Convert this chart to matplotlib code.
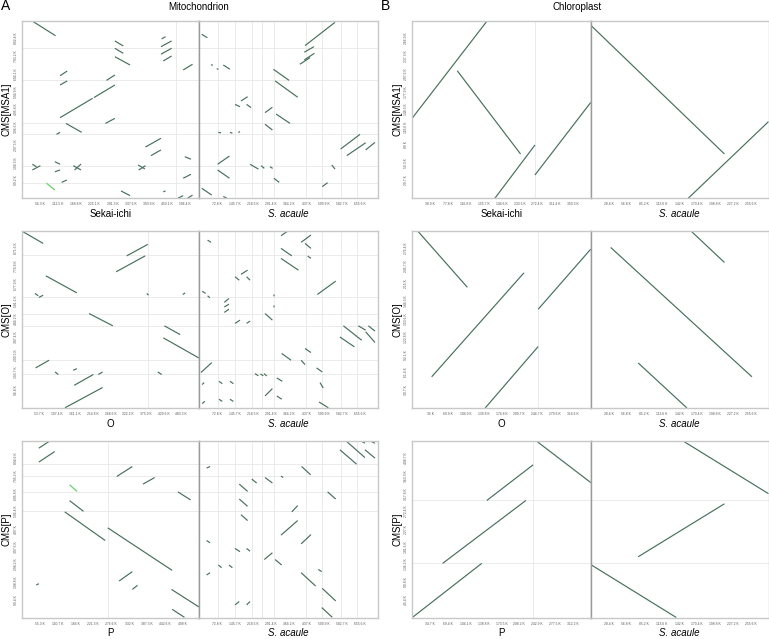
import matplotlib
matplotlib.use("Agg")
import matplotlib.pyplot as plt

plt.rcParams['font.family'] = ['Liberation Sans', 'DejaVu Sans']

# ---------------- data (values in kb) ----------------
# genome lengths (axis extents)
len_sekai_mt, len_sacaule_mt, len_msa1_mt = 550, 728, 991
len_o_mt, len_o_mt_y, len_p_mt, len_p_mt_y = 537, 968.5, 548, 994
len_sekai_cp, len_sacaule_cp, len_msa1_cp = 389, 284.5, 296.5
len_o_cp, len_o_cp_y, len_p_cp, len_p_cp_y = 350, 307, 347, 454

# tick labels
tk_sekai_mt = ["56.3 K", "112.5 K", "168.8 K", "225.1 K", "281.3 K", "337.6 K", "393.8 K", "450.1 K", "506.4 K"]
tk_sacaule_mt = ["72.8 K", "145.7 K", "218.5 K", "291.4 K", "364.2 K", "437 K", "509.9 K", "582.7 K", "655.6 K"]
tk_msa1_mt = ["99.2 K", "198.3 K", "297.5 K", "396.6 K", "495.8 K", "594.9 K", "694.1 K", "793.2 K", "892.4 K"]
tk_o_mt = ["53.7 K", "107.4 K", "161.1 K", "214.8 K", "268.6 K", "322.2 K", "375.9 K", "429.6 K", "483.3 K"]
tk_o_mt_y = ["96.8 K", "193.7 K", "290.5 K", "387.4 K", "484.2 K", "581.1 K", "677.9 K", "774.8 K", "871.6 K"]
tk_p_mt = ["55.3 K", "110.7 K", "166 K", "221.3 K", "276.6 K", "332 K", "387.3 K", "442.6 K", "498 K"]
tk_p_mt_y = ["99.4 K", "198.8 K", "298.2 K", "397.6 K", "497 K", "596.4 K", "695.8 K", "795.2 K", "894.6 K"]
tk_sekai_cp = ["38.9 K", "77.8 K", "116.8 K", "155.7 K", "194.6 K", "233.5 K", "272.4 K", "311.4 K", "350.3 K"]
tk_sacaule_cp = ["28.4 K", "56.8 K", "85.2 K", "113.6 K", "142 K", "170.4 K", "198.8 K", "227.2 K", "255.6 K"]
tk_msa1_cp = ["29.7 K", "59.3 K", "89 K", "118.6 K", "148.3 K", "177.9 K", "207.6 K", "237.3 K", "266.9 K"]
tk_o_cp = ["35 K", "69.9 K", "104.9 K", "139.8 K", "174.8 K", "209.7 K", "244.7 K", "279.6 K", "314.6 K"]
tk_o_cp_y = ["30.7 K", "61.4 K", "92.1 K", "122.8 K", "153.6 K", "184.3 K", "215 K", "245.7 K", "276.4 K"]
tk_p_cp = ["34.7 K", "69.4 K", "104.1 K", "138.8 K", "173.5 K", "208.2 K", "242.9 K", "277.5 K", "312.2 K"]
tk_p_cp_y = ["45.4 K", "90.8 K", "136.2 K", "181.6 K", "227 K", "272.4 K", "317.8 K", "363.3 K", "408.7 K"]

# contig boundaries (faint lines)
bd_sekai_mt = [480]
bd_sacaule_mt = [76, 147, 215, 255, 305, 436, 503, 577, 645]
bd_msa1_mt = [837, 658, 418, 357, 182, 84]
bd_o_mt = [384]
bd_o_mt_y = [835, 607, 516, 450, 261, 183]
bd_p_mt = [266]
bd_p_mt_y = [864, 793, 706, 601]
bd_sekai_cp = [267.5]
bd_o_cp = [247]
bd_p_cp = [235]
bd_p_cp_y = [300.6, 139]

# alignments: (x_start, x_end, y_start, y_end)
mt_msa1_sekai = [
    (33, 105, 989, 907), (289, 315, 878, 850), (289, 315, 837, 809), (289, 336, 790, 744),
    (434, 446, 889, 902), (432, 465, 846, 878), (432, 465, 804, 837), (439, 465, 766, 794),
    (501, 530, 716, 748), (119, 141, 684, 710), (119, 141, 632, 655), (263, 289, 658, 688),
    (119, 220, 450, 558), (224, 289, 562, 632), (260, 289, 418, 446), (137, 186, 418, 368),
    (108, 119, 357, 368), (384, 432, 286, 335), (401, 432, 238, 270), (506, 525, 232, 218),
    (33, 46, 190, 176), (33, 58, 158, 182), (103, 119, 204, 190), (103, 119, 148, 158),
    (160, 184, 182, 158), (164, 184, 158, 191), (361, 382, 186, 164), (363, 384, 158, 182),
    (124, 140, 89, 102), (501, 525, 112, 134), (308, 336, 41, 15), (439, 446, 36, 41),
    (485, 501, 1, 15), (515, 530, 1, 18),
]
mt_msa1_sekai_hi = [(77, 103, 84, 46)]
mt_msa1_sacaule = [
    (11, 34, 915, 896), (432, 554, 852, 982), (429, 468, 815, 846), (429, 470, 772, 809),
    (411, 452, 748, 785), (99, 126, 744, 720), (303, 367, 720, 658), (310, 402, 655, 564),
    (171, 198, 543, 567), (147, 167, 524, 511), (194, 212, 524, 506), (269, 299, 478, 508),
    (314, 371, 470, 418), (269, 299, 413, 381), (577, 656, 275, 357), (602, 679, 238, 310),
    (679, 717, 270, 312), (76, 124, 190, 236), (76, 124, 158, 112), (208, 242, 190, 163),
    (253, 266, 182, 167), (289, 300, 176, 167), (541, 554, 186, 163), (305, 327, 112, 89),
    (502, 524, 65, 87), (11, 52, 56, 18), (99, 113, 10, 1), (79, 90, 368, 365),
    (126, 136, 368, 363), (160, 167, 368, 372), (72, 79, 723, 720), (49, 56, 746, 742),
]
mt_o_o = [
    (1, 65, 966, 899), (318, 382, 831, 894), (286, 374, 744, 831), (73, 167, 722, 629),
    (40, 50, 626, 613), (52, 65, 604, 616), (204, 276, 516, 449), (432, 480, 449, 401),
    (429, 537, 383, 273), (42, 83, 219, 261), (101, 111, 197, 183), (156, 167, 206, 215),
    (159, 217, 124, 183), (232, 245, 183, 197), (131, 245, 1, 112), (412, 424, 197, 183),
    (379, 384, 626, 616), (488, 495, 620, 629),
]
mt_o_sacaule = [
    (35, 49, 917, 905), (334, 361, 941, 966), (416, 456, 905, 945), (432, 456, 899, 872),
    (334, 378, 872, 831), (334, 405, 817, 753), (443, 456, 830, 817), (171, 198, 730, 753),
    (147, 164, 717, 698), (194, 208, 717, 698), (482, 557, 620, 693), (13, 27, 638, 626),
    (35, 44, 613, 602), (103, 122, 577, 598), (103, 122, 552, 567), (103, 122, 522, 540),
    (269, 299, 516, 480), (147, 167, 462, 480), (194, 208, 462, 475), (588, 663, 449, 370),
    (574, 633, 388, 334), (649, 679, 449, 425), (679, 717, 416, 358), (690, 717, 449, 420),
    (432, 456, 325, 303), (337, 375, 298, 261), (416, 432, 261, 237), (479, 502, 219, 197),
    (8, 52, 194, 248), (317, 339, 164, 146), (493, 506, 139, 109), (81, 95, 146, 133),
    (126, 140, 146, 133), (269, 299, 66, 106), (317, 337, 66, 48), (81, 95, 48, 36),
    (126, 140, 48, 36), (489, 527, 33, 1), (228, 242, 188, 176), (250, 262, 186, 176),
    (265, 276, 188, 175), (13, 24, 24, 37), (13, 21, 128, 139), (305, 306, 620, 610),
    (305, 306, 560, 550),
]
mt_p_p = [
    (53, 87, 952, 993), (53, 102, 874, 933), (294, 342, 793, 849), (375, 411, 750, 787),
    (148, 191, 657, 597), (483, 522, 706, 661), (133, 258, 594, 433), (266, 465, 504, 265),
    (301, 342, 205, 258), (342, 358, 158, 181), (463, 548, 158, 59), (465, 503, 46, 1),
    (45, 53, 183, 190),
]
mt_p_p_hi = [(148, 171, 746, 709)]
mt_p_sacaule = [
    (574, 642, 943, 862), (602, 676, 989, 899), (676, 717, 943, 896), (31, 45, 840, 849),
    (418, 455, 849, 802), (215, 235, 778, 756), (269, 299, 787, 756), (334, 343, 795, 787),
    (164, 198, 750, 709), (524, 557, 706, 666), (164, 198, 666, 625), (378, 402, 594, 629),
    (171, 198, 578, 545), (334, 402, 463, 545), (416, 456, 414, 466), (31, 45, 433, 420),
    (147, 167, 388, 370), (194, 208, 388, 373), (266, 299, 326, 364), (310, 337, 326, 295),
    (79, 92, 295, 280), (122, 136, 295, 280), (31, 45, 239, 252), (416, 475, 252, 177),
    (486, 500, 270, 258), (502, 557, 164, 93), (147, 164, 71, 90), (194, 208, 71, 90),
    (500, 543, 56, 1), (663, 676, 990, 980), (701, 717, 990, 980),
]
cp_msa1_sekai = [(0, 163.5, 134, 296.5), (98, 236, 213, 74), (180, 267.5, 0, 89), (267.5, 389, 39, 160)]
cp_msa1_sacaule = [(0, 214, 289, 74), (156, 284.5, 0, 128)]
cp_o_o = [(10, 108, 307, 209), (38, 219, 54, 234), (143, 247, 0, 106.5), (247, 350, 171, 275)]
cp_o_sacaule = [(32, 258, 278, 54), (160, 214, 307, 252), (76, 154, 78, 0)]
cp_p_p = [(0, 135, 0, 139), (59, 221, 139, 300.6), (145, 235, 300.6, 392), (240.6, 347, 454, 346.6)]
cp_p_sacaule = [(147, 284.5, 454, 318), (76, 214, 156, 292), (0, 137, 136, 0)]

# ---------------- drawing ----------------
W, H = 769, 639
fig = plt.figure(figsize=(W / 100, H / 100), dpi=100)

LINE = '#46715a'
HI = '#5fd35f'
FRAME = '#c8c8c8'
DIV = '#9a9a9a'
GRID = '#e8e8e8'
TICKFS = 2.4


def ax_at(x0, y0, x1, y1):
    return fig.add_axes([x0 / W, 1 - y1 / H, (x1 - x0) / W, (y1 - y0) / H])


def tickvals(labels):
    return [float(s.split()[0]) for s in labels]


def sub(ax, xlen, ylen, segs, hi, xt, xb, hb, xlabel, italic, ylabel=None, yt=None):
    ax.set_xlim(0, xlen)
    ax.set_ylim(0, ylen)
    for v in xb:
        ax.axvline(v, color=GRID, lw=0.6, zorder=0)
    for v in hb:
        ax.axhline(v, color=GRID, lw=0.6, zorder=0)
    for (xa, xb_, ya, yb) in segs:
        ax.plot([xa, xb_], [ya, yb], color=LINE, lw=0.85, solid_capstyle='butt')
    for (xa, xb_, ya, yb) in hi:
        ax.plot([xa, xb_], [ya, yb], color=HI, lw=0.85, solid_capstyle='butt')
    ax.set_xticks(tickvals(xt), xt, fontsize=TICKFS, color='#555555')
    ax.tick_params(length=0, pad=3.0)
    ax.set_xlabel(xlabel, fontsize=7, style='italic' if italic else 'normal', labelpad=1.8)
    if yt is not None:
        ax.set_yticks(tickvals(yt), yt, fontsize=TICKFS, color='#555555', rotation=90, va='center')
        ax.set_ylabel(ylabel, fontsize=7, labelpad=1.2)
    else:
        ax.set_yticks([])
    for s in ax.spines.values():
        s.set_color(FRAME)
        s.set_linewidth(1.0)


def panel(x0, xd, x1, yt0, yb0, cfgL, cfgR, ylen, yt, ylabel, hb):
    axL = ax_at(x0, yt0, xd, yb0)
    axR = ax_at(xd, yt0, x1, yb0)
    xlen, segs, hi, xt, xb, xlabel, italic = cfgL
    sub(axL, xlen, ylen, segs, hi, xt, xb, hb, xlabel, italic, ylabel, yt)
    xlen, segs, hi, xt, xb, xlabel, italic = cfgR
    sub(axR, xlen, ylen, segs, hi, xt, xb, hb, xlabel, italic)
    axL.spines['right'].set_color(DIV)
    axR.spines['left'].set_color(DIV)


rows = [(20.7, 198.3), (230.7, 408.0), (440.7, 617.5)]
mx0, mxd, mx1 = 21.7, 199.0, 377.7
cx0, cxd, cx1 = 412.3, 590.7, 768.5

# Mitochondrion
panel(mx0, mxd, mx1, *rows[0],
      (len_sekai_mt, mt_msa1_sekai, mt_msa1_sekai_hi, tk_sekai_mt, bd_sekai_mt, 'Sekai-ichi', False),
      (len_sacaule_mt, mt_msa1_sacaule, [], tk_sacaule_mt, bd_sacaule_mt, 'S. acaule', True),
      len_msa1_mt, tk_msa1_mt, 'CMS[MSA1]', bd_msa1_mt)
panel(mx0, mxd, mx1, *rows[1],
      (len_o_mt, mt_o_o, [], tk_o_mt, bd_o_mt, 'O', False),
      (len_sacaule_mt, mt_o_sacaule, [], tk_sacaule_mt, bd_sacaule_mt, 'S. acaule', True),
      len_o_mt_y, tk_o_mt_y, 'CMS[O]', bd_o_mt_y)
panel(mx0, mxd, mx1, *rows[2],
      (len_p_mt, mt_p_p, mt_p_p_hi, tk_p_mt, bd_p_mt, 'P', False),
      (len_sacaule_mt, mt_p_sacaule, [], tk_sacaule_mt, bd_sacaule_mt, 'S. acaule', True),
      len_p_mt_y, tk_p_mt_y, 'CMS[P]', bd_p_mt_y)

# Chloroplast
panel(cx0, cxd, cx1, *rows[0],
      (len_sekai_cp, cp_msa1_sekai, [], tk_sekai_cp, bd_sekai_cp, 'Sekai-ichi', False),
      (len_sacaule_cp, cp_msa1_sacaule, [], tk_sacaule_cp, [], 'S. acaule', True),
      len_msa1_cp, tk_msa1_cp, 'CMS[MSA1]', [])
panel(cx0, cxd, cx1, *rows[1],
      (len_o_cp, cp_o_o, [], tk_o_cp, bd_o_cp, 'O', False),
      (len_sacaule_cp, cp_o_sacaule, [], tk_sacaule_cp, [], 'S. acaule', True),
      len_o_cp_y, tk_o_cp_y, 'CMS[O]', [])
panel(cx0, cxd, cx1, *rows[2],
      (len_p_cp, cp_p_p, [], tk_p_cp, bd_p_cp, 'P', False),
      (len_sacaule_cp, cp_p_sacaule, [], tk_sacaule_cp, [], 'S. acaule', True),
      len_p_cp_y, tk_p_cp_y, 'CMS[P]', bd_p_cp_y)

fig.text(199 / W, 1 - 7 / H, 'Mitochondrion', ha='center', va='center', fontsize=7)
fig.text(577 / W, 1 - 7 / H, 'Chloroplast', ha='center', va='center', fontsize=7)
fig.text(1 / W, 1 - 6 / H, 'A', ha='left', va='center', fontsize=10)
fig.text(381 / W, 1 - 6 / H, 'B', ha='left', va='center', fontsize=10)

fig.savefig('out.png', dpi=100)
